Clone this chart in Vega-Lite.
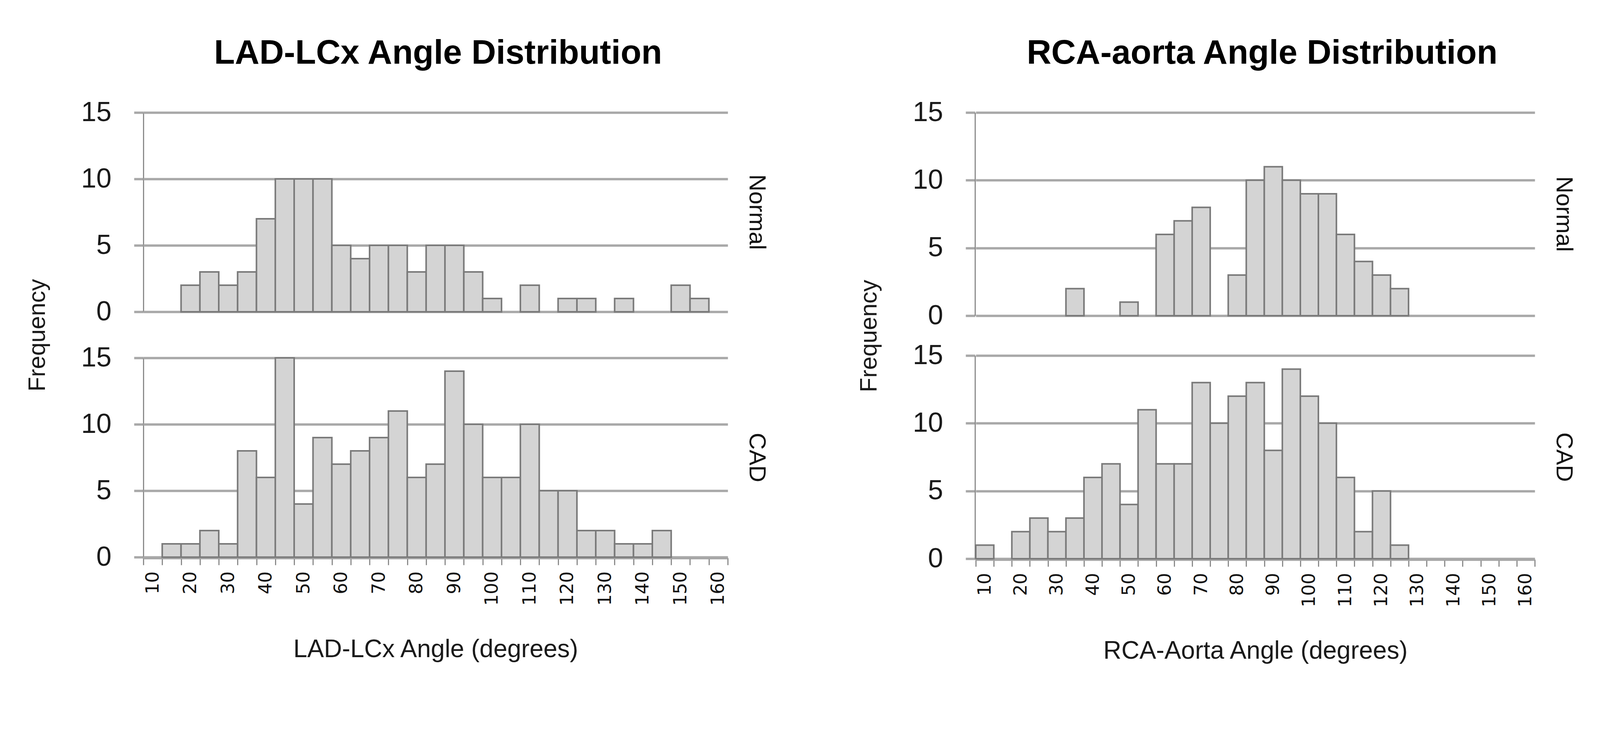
{
  "$schema": "https://vega.github.io/schema/vega-lite/v6.json",
  "background": "white",
  "padding": {"left": 66, "top": 93, "right": 10, "bottom": 10},
  "datasets": {
    "lad": [
      {"angle": 20, "group": "Normal", "freq": 2}, {"angle": 25, "group": "Normal", "freq": 3},
      {"angle": 30, "group": "Normal", "freq": 2}, {"angle": 35, "group": "Normal", "freq": 3},
      {"angle": 40, "group": "Normal", "freq": 7}, {"angle": 45, "group": "Normal", "freq": 10},
      {"angle": 50, "group": "Normal", "freq": 10}, {"angle": 55, "group": "Normal", "freq": 10},
      {"angle": 60, "group": "Normal", "freq": 5}, {"angle": 65, "group": "Normal", "freq": 4},
      {"angle": 70, "group": "Normal", "freq": 5}, {"angle": 75, "group": "Normal", "freq": 5},
      {"angle": 80, "group": "Normal", "freq": 3}, {"angle": 85, "group": "Normal", "freq": 5},
      {"angle": 90, "group": "Normal", "freq": 5}, {"angle": 95, "group": "Normal", "freq": 3},
      {"angle": 100, "group": "Normal", "freq": 1}, {"angle": 110, "group": "Normal", "freq": 2},
      {"angle": 120, "group": "Normal", "freq": 1}, {"angle": 125, "group": "Normal", "freq": 1},
      {"angle": 135, "group": "Normal", "freq": 1}, {"angle": 150, "group": "Normal", "freq": 2},
      {"angle": 155, "group": "Normal", "freq": 1},
      {"angle": 15, "group": "CAD", "freq": 1}, {"angle": 20, "group": "CAD", "freq": 1},
      {"angle": 25, "group": "CAD", "freq": 2}, {"angle": 30, "group": "CAD", "freq": 1},
      {"angle": 35, "group": "CAD", "freq": 8}, {"angle": 40, "group": "CAD", "freq": 6},
      {"angle": 45, "group": "CAD", "freq": 15}, {"angle": 50, "group": "CAD", "freq": 4},
      {"angle": 55, "group": "CAD", "freq": 9}, {"angle": 60, "group": "CAD", "freq": 7},
      {"angle": 65, "group": "CAD", "freq": 8}, {"angle": 70, "group": "CAD", "freq": 9},
      {"angle": 75, "group": "CAD", "freq": 11}, {"angle": 80, "group": "CAD", "freq": 6},
      {"angle": 85, "group": "CAD", "freq": 7}, {"angle": 90, "group": "CAD", "freq": 14},
      {"angle": 95, "group": "CAD", "freq": 10}, {"angle": 100, "group": "CAD", "freq": 6},
      {"angle": 105, "group": "CAD", "freq": 6}, {"angle": 110, "group": "CAD", "freq": 10},
      {"angle": 115, "group": "CAD", "freq": 5}, {"angle": 120, "group": "CAD", "freq": 5},
      {"angle": 125, "group": "CAD", "freq": 2}, {"angle": 130, "group": "CAD", "freq": 2},
      {"angle": 135, "group": "CAD", "freq": 1}, {"angle": 140, "group": "CAD", "freq": 1},
      {"angle": 145, "group": "CAD", "freq": 2}
    ],
    "rca": [
      {"angle": 35, "group": "Normal", "freq": 2}, {"angle": 50, "group": "Normal", "freq": 1},
      {"angle": 60, "group": "Normal", "freq": 6}, {"angle": 65, "group": "Normal", "freq": 7},
      {"angle": 70, "group": "Normal", "freq": 8}, {"angle": 80, "group": "Normal", "freq": 3},
      {"angle": 85, "group": "Normal", "freq": 10}, {"angle": 90, "group": "Normal", "freq": 11},
      {"angle": 95, "group": "Normal", "freq": 10}, {"angle": 100, "group": "Normal", "freq": 9},
      {"angle": 105, "group": "Normal", "freq": 9}, {"angle": 110, "group": "Normal", "freq": 6},
      {"angle": 115, "group": "Normal", "freq": 4}, {"angle": 120, "group": "Normal", "freq": 3},
      {"angle": 125, "group": "Normal", "freq": 2},
      {"angle": 10, "group": "CAD", "freq": 1}, {"angle": 20, "group": "CAD", "freq": 2},
      {"angle": 25, "group": "CAD", "freq": 3}, {"angle": 30, "group": "CAD", "freq": 2},
      {"angle": 35, "group": "CAD", "freq": 3}, {"angle": 40, "group": "CAD", "freq": 6},
      {"angle": 45, "group": "CAD", "freq": 7}, {"angle": 50, "group": "CAD", "freq": 4},
      {"angle": 55, "group": "CAD", "freq": 11}, {"angle": 60, "group": "CAD", "freq": 7},
      {"angle": 65, "group": "CAD", "freq": 7}, {"angle": 70, "group": "CAD", "freq": 13},
      {"angle": 75, "group": "CAD", "freq": 10}, {"angle": 80, "group": "CAD", "freq": 12},
      {"angle": 85, "group": "CAD", "freq": 13}, {"angle": 90, "group": "CAD", "freq": 8},
      {"angle": 95, "group": "CAD", "freq": 14}, {"angle": 100, "group": "CAD", "freq": 12},
      {"angle": 105, "group": "CAD", "freq": 10}, {"angle": 110, "group": "CAD", "freq": 6},
      {"angle": 115, "group": "CAD", "freq": 2}, {"angle": 120, "group": "CAD", "freq": 5},
      {"angle": 125, "group": "CAD", "freq": 1}
    ]
  },
  "spacing": 228,
  "hconcat": [
    {
      "data": {"name": "lad"},
      "title": {"text": "LAD-LCx Angle Distribution", "offset": 72, "dx": 105},
      "spacing": 114,
      "facet": {
        "row": {
          "field": "group", "type": "nominal", "sort": ["Normal", "CAD"],
          "header": {"title": "Frequency", "titleOrient": "left", "titleAngle": -90, "titlePadding": 8,
                     "titleFont": "Liberation Sans", "titleFontSize": 61, "titleFontWeight": "normal", "titleColor": "#1a1a1a",
                     "labelOrient": "right", "labelAngle": 90, "labelPadding": 43,
                     "labelFont": "Liberation Sans", "labelFontSize": 60, "labelColor": "#111111"}
        }
      },
      "spec": {
        "width": 1496,
        "height": 510,
        "mark": {"type": "bar", "fill": "#d4d4d4", "stroke": "#7a7a7a", "strokeWidth": 4},
        "encoding": {
          "x": {
            "field": "angle", "type": "ordinal",
            "scale": {"domain": [10,15,20,25,30,35,40,45,50,55,60,65,70,75,80,85,90,95,100,105,110,115,120,125,130,135,140,145,150,155,160], "paddingInner": 0, "paddingOuter": 0},
            "axis": {"title": "LAD-LCx Angle (degrees)", "labelExpr": "datum.value % 10 == 0 ? datum.label : ''"}
          },
          "y": {
            "field": "freq", "type": "quantitative",
            "scale": {"domain": [0, 15], "nice": false},
            "axis": {"values": [0, 5, 10, 15], "title": null}
          }
        }
      }
    },
    {
      "data": {"name": "rca"},
      "title": {"text": "RCA-aorta Angle Distribution", "offset": 72, "dx": 117},
      "spacing": 100,
      "facet": {
        "row": {
          "field": "group", "type": "nominal", "sort": ["Normal", "CAD"],
          "header": {"title": "Frequency", "titleOrient": "left", "titleAngle": -90, "titlePadding": 8,
                     "titleFont": "Liberation Sans", "titleFontSize": 61, "titleFontWeight": "normal", "titleColor": "#1a1a1a",
                     "labelOrient": "right", "labelAngle": 90, "labelPadding": 43,
                     "labelFont": "Liberation Sans", "labelFontSize": 60, "labelColor": "#111111"}
        }
      },
      "spec": {
        "width": 1431,
        "height": 520,
        "mark": {"type": "bar", "fill": "#d4d4d4", "stroke": "#7a7a7a", "strokeWidth": 4},
        "encoding": {
          "x": {
            "field": "angle", "type": "ordinal",
            "scale": {"domain": [10,15,20,25,30,35,40,45,50,55,60,65,70,75,80,85,90,95,100,105,110,115,120,125,130,135,140,145,150,155,160], "paddingInner": 0, "paddingOuter": 0},
            "axis": {"title": "RCA-Aorta Angle (degrees)", "labelExpr": "datum.value % 10 == 0 ? datum.label : ''"}
          },
          "y": {
            "field": "freq", "type": "quantitative",
            "scale": {"domain": [0, 15], "nice": false},
            "axis": {"values": [0, 5, 10, 15], "title": null}
          }
        }
      }
    }
  ],
  "config": {
    "view": {"stroke": null},
    "title": {"font": "Liberation Sans", "fontSize": 87, "fontWeight": "bold", "color": "#000000", "anchor": "middle"},
    "axis": {"labelFont": "Liberation Sans", "labelColor": "#1a1a1a", "titleFont": "Liberation Sans", "titleFontWeight": "normal", "titleColor": "#1a1a1a"},
    "axisY": {
      "grid": true, "gridColor": "#a8a8a8", "gridWidth": 6,
      "tickColor": "#a8a8a8", "tickWidth": 6, "tickSize": 24,
      "domainColor": "#8c8c8c", "domainWidth": 3,
      "labelFontSize": 70, "labelPadding": 58
    },
    "axisX": {
      "grid": false, "domainColor": "#a0a0a0", "domainWidth": 6,
      "tickColor": "#8c8c8c", "tickWidth": 3, "tickSize": 18, "tickBand": "extent",
      "labelAngle": -90, "labelFont": "DejaVu Sans", "labelFontSize": 46, "labelColor": "#111111", "labelPadding": 16, "labelOverlap": false,
      "titleFontSize": 64, "titlePadding": 81
    }
  }
}
